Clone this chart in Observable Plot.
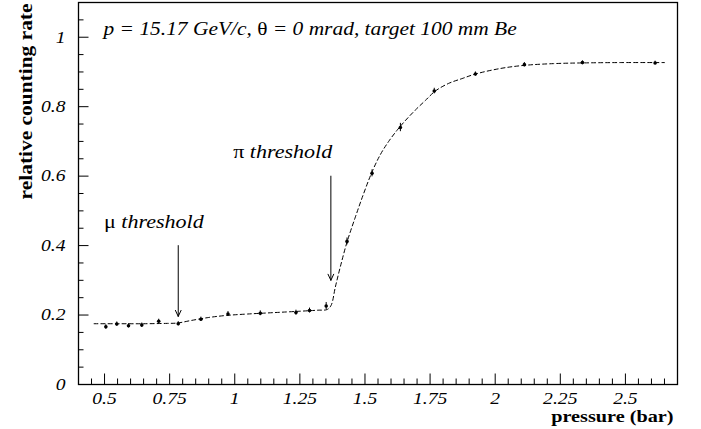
<!DOCTYPE html>
<html><head><meta charset="utf-8">
<script src="https://cdn.jsdelivr.net/npm/d3@7"></script>
<script src="https://cdn.jsdelivr.net/npm/@observablehq/plot@0.6"></script>
<style>body{margin:0;background:#fff}#chart svg{display:block}</style>
</head><body><div id="chart"></div>
<script>
// measured points
const pressure = [0.505,0.547,0.592,0.643,0.708,0.783,0.870,0.974,1.098,1.235,1.287,1.351,1.431,1.527,1.636,1.766,1.924,2.112,2.335,2.614];
const rate     = [0.166,0.174,0.169,0.171,0.182,0.175,0.188,0.203,0.205,0.207,0.213,0.226,0.412,0.608,0.740,0.845,0.894,0.921,0.927,0.926];
const rateErr  = [0.006,0.006,0.006,0.006,0.006,0.006,0.006,0.007,0.007,0.007,0.007,0.010,0.010,0.010,0.012,0.008,0.006,0.006,0.005,0.005];
// fitted curve
const fitPressure = [0.46,0.55,0.65,0.74,0.78,0.83,0.90,0.97,1.05,1.15,1.25,1.32,1.355,1.370,1.386,1.405,1.431,1.463,1.495,1.527,1.559,1.591,1.623,1.655,1.693,1.732,1.770,1.821,1.873,1.924,2.02,2.112,2.224,2.335,2.48,2.65];
const fitRate     = [0.175,0.175,0.175,0.176,0.177,0.184,0.193,0.199,0.203,0.207,0.211,0.214,0.216,0.228,0.28,0.338,0.41,0.482,0.55,0.612,0.662,0.700,0.732,0.760,0.790,0.818,0.845,0.867,0.881,0.894,0.910,0.919,0.924,0.926,0.927,0.927];
// ticks
const xTicks = [0.5,0.75,1,1.25,1.5,1.75,2,2.25,2.5];
const xTickLabels = ["0.5","0.75","1","1.25","1.5","1.75","2","2.25","2.5"];
const yTicks = [0,0.2,0.4,0.6,0.8,1];
const yTickLabels = ["0","0.2","0.4","0.6","0.8","1"];
// annotations
const arrowX = [0.783, 1.369];
const arrowFrom = [0.40, 0.60];
const arrowTo = [0.196, 0.30];
const noteText = ["μ threshold", "π threshold"];
const noteX = [0.498, 0.994];
const noteY = [0.452, 0.651];
const title = "p = 15.17 GeV/c, θ = 0 mrad, target 100 mm Be";
const xTitle = "pressure (bar)";
const yTitle = "relative counting rate";

const xMinor = d3.range(9, 54).map(i => +(i * 0.05).toFixed(2)).filter(v => !xTicks.includes(v));
const yMinor = d3.range(0, 23).map(i => +(i * 0.05).toFixed(2)).filter(v => !yTicks.includes(v));

const FONT = "Liberation Serif";
const chart = Plot.plot({
  width: 701, height: 429,
  marginLeft: 78, marginRight: 24, marginTop: 2, marginBottom: 45,
  style: {fontFamily: FONT, fontSize: "17px", background: "white", color: "black"},
  x: {domain: [0.4, 2.7], label: null},
  y: {domain: [0, 1.1], label: null},
  marks: [
    Plot.axisX(xMinor, {anchor: "bottom", tickSize: -5.5, tickFormat: () => "", strokeWidth: 1}),
    Plot.axisX(xTicks, {anchor: "bottom", tickSize: -10.5, tickFormat: () => "", strokeWidth: 1}),
    Plot.axisX(xTicks, {anchor: "bottom", tickSize: 0, tickPadding: 8, tickFormat: d => xTickLabels[xTicks.indexOf(d)], fontFamily: FONT, fontStyle: "italic", fontSize: 16.5}),
    Plot.axisY(yMinor, {anchor: "left", tickSize: -5.5, tickFormat: () => "", strokeWidth: 1}),
    Plot.axisY(yTicks, {anchor: "left", tickSize: -10.5, tickFormat: () => "", strokeWidth: 1}),
    Plot.axisY(yTicks, {anchor: "left", tickSize: 0, tickPadding: 13, tickFormat: d => yTickLabels[yTicks.indexOf(d)], fontFamily: FONT, fontStyle: "italic", fontSize: 16.5}),
    Plot.frame({stroke: "black", strokeWidth: 1.3}),
    Plot.line(fitPressure, {x: fitPressure, y: fitRate, curve: "catmull-rom", stroke: "black", strokeWidth: 1, strokeDasharray: "4,3"}),
    Plot.ruleX(pressure, {x: pressure, y1: rate.map((v, i) => v - rateErr[i]), y2: rate.map((v, i) => v + rateErr[i]), stroke: "black", strokeWidth: 1}),
    Plot.dot(pressure, {x: pressure, y: rate, r: 1.8, fill: "black"}),
    Plot.arrow(arrowX, {x1: arrowX, y1: arrowFrom, x2: arrowX, y2: arrowTo, stroke: "black", strokeWidth: 1, headLength: 10, headAngle: 50}),
    Plot.text(noteText, {x: noteX, y: noteY, text: noteText, textAnchor: "start", lineAnchor: "bottom", fontFamily: FONT, fontStyle: "italic", fontSize: 18.5}),
    Plot.text([title], {frameAnchor: "top-left", dx: 25, dy: 32, text: [title], textAnchor: "start", lineAnchor: "bottom", fontFamily: FONT, fontStyle: "italic", fontSize: 18}),
    Plot.text([yTitle], {frameAnchor: "top-left", dx: -52, dy: 1, text: [yTitle], rotate: -90, textAnchor: "end", lineAnchor: "middle", fontFamily: FONT, fontWeight: "bold", fontSize: 18}),
    Plot.text([xTitle], {frameAnchor: "bottom-right", dx: -4, dy: 37.5, text: [xTitle], textAnchor: "end", lineAnchor: "bottom", fontFamily: FONT, fontWeight: "bold", fontSize: 17})
  ]
});

// serif family everywhere; Greek letters upright (symbol font)
d3.select(chart).selectAll("text").attr("font-family", FONT).style("font-family", FONT);
d3.select(chart).selectAll("text").each(function() {
  const s = this.textContent;
  if (!/[θμπ]/.test(s) || this.querySelector("tspan")) return;
  this.textContent = "";
  for (const part of s.split(/([θμπ])/)) {
    if (!part) continue;
    const t = document.createElementNS("http://www.w3.org/2000/svg", "tspan");
    t.textContent = part;
    if (/[θμπ]/.test(part)) t.setAttribute("font-style", "normal");
    this.appendChild(t);
  }
});
document.getElementById("chart").appendChild(chart);
// the reference's Times face is set wider than Liberation Serif: widen glyphs
const WIDEN = 1.19;
d3.select(chart).selectAll("text").each(function() {
  if (!this.textContent) return;
  const L = this.getComputedTextLength();
  if (L > 0) {
    this.setAttribute("textLength", (L * WIDEN).toFixed(1));
    this.setAttribute("lengthAdjust", "spacingAndGlyphs");
  }
});
</script>
</body></html>
